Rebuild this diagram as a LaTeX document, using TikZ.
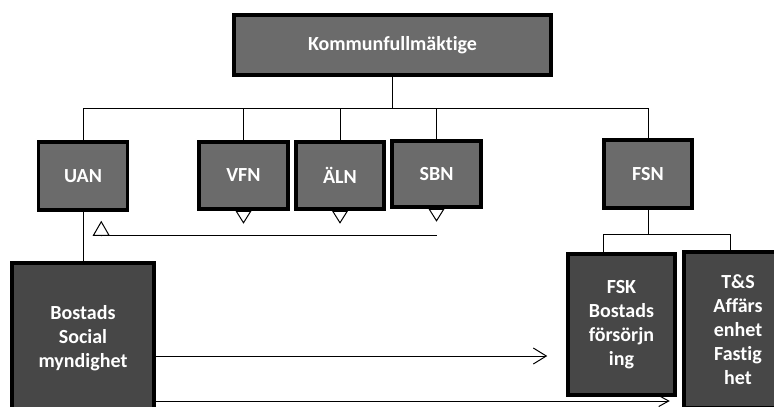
\documentclass[tikz,border=0pt]{standalone}
\usepackage{fontspec}
\setmainfont{Carlito}[Ligatures=NoCommon]
\usetikzlibrary{arrows.meta}

\begin{document}
\begin{tikzpicture}[x=1pt,y=-1pt,
  font=\bfseries\fontsize{20}{24}\selectfont,
  orgbox/.style={draw=black,line width=3.5pt,fill=black!58,text=white,align=center,inner sep=0pt},
  darkbox/.style={orgbox,fill=black!72},
  link/.style={line width=1pt},
  downtip/.style={link,-{Triangle[open,length=13pt,width=16pt]}},
  uptip/.style={link,-{Triangle[open,length=15pt,width=17pt]}},
  bigbarb/.style={link,-{Straight Barb[length=13pt,width=16pt]}},
  smallbarb/.style={link,-{Straight Barb[length=10pt,width=11pt]}}]
  \useasboundingbox (0,0) rectangle (774,407);
  \clip (0,0) rectangle (774,407);
  % top level
  \node[orgbox,minimum width=317pt,minimum height=60pt] (kf) at (392.5,45) {Kommunfullmäktige};
  % boards
  \node[orgbox,minimum width=89pt,minimum height=68pt] (uan) at (83,176) {UAN};
  \node[orgbox,minimum width=89pt,minimum height=67pt] (vfn) at (243.5,175.5) {VFN};
  \node[orgbox,minimum width=88pt,minimum height=67pt] (aln) at (340,175.5) {ÄLN};
  \node[orgbox,minimum width=89pt,minimum height=66pt] (sbn) at (436.5,174) {SBN};
  \node[orgbox,minimum width=88pt,minimum height=68pt] (fsn) at (648,174) {FSN};
  % lower level
  \node[darkbox,minimum width=142pt,minimum height=150pt] (bostads) at (83,338) {Bostads\\Social\\myndighet};
  \node[darkbox,minimum width=107pt,minimum height=141pt] (fsk) at (621.5,324.5) {FSK\\Bostads\\försörjn\\ing};
  \node[darkbox,minimum width=108pt,minimum height=156pt] (ts) at (738,330) {T\&S\\Affärs\\enhet\\Fastig\\het};
  % tree lines
  \coordinate (bus) at (392.5,108);
  \draw[link] (kf.south) -- (bus);
  \foreach \n in {uan,vfn,aln,sbn,fsn}
    \draw[link] (bus) -| (\n.north);
  \draw[link] (uan.south) -- (bostads.north);
  \coordinate (fbus) at (648,234);
  \draw[link] (fsn.south) -- (fbus);
  \draw[link] (fbus) -| ([xshift=-18pt]fsk.north);
  \draw[link] (fbus) -| ([xshift=-8pt]ts.north);
  % arrows
  \foreach \n in {vfn,aln,sbn}
    \draw[downtip] (\n.south) -- ++(0,13);
  \coordinate (ret) at ([yshift=-27pt]sbn.south);
  \draw[uptip] (ret) -| ([xshift=-28pt,yshift=-9pt]uan.south east);
  \draw[bigbarb,shorten >=19pt] ([yshift=-18pt]bostads.east) -- ([yshift=-18pt]bostads.east -| fsk.west);
  \draw[smallbarb,shorten >=7pt] ([yshift=-63pt]bostads.east) -- ([yshift=-63pt]bostads.east -| fsk.east);
\end{tikzpicture}
\end{document}
